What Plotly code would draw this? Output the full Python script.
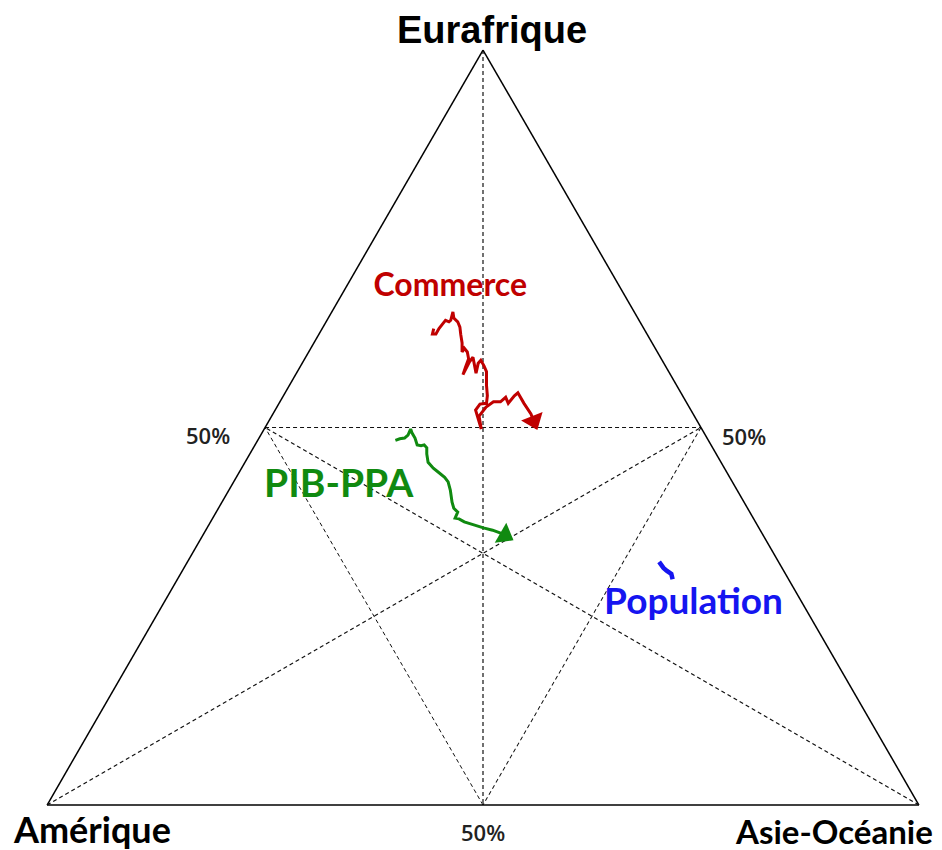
import plotly.graph_objects as go

# Shares (%) : Eurafrique (a), Amérique (b), Asie-Océanie (c)
commerce_eur = [63.1, 62.4, 62.4, 63.1, 63.7, 64.2, 64.0, 64.2, 65.3, 64.5, 64.0, 63.3, 62.3, 61.2, 60.0,
                60.5, 60.0, 59.1, 58.0, 57.0, 58.7, 59.3, 57.2, 58.5, 58.9, 58.2, 57.4, 55.6, 54.2, 53.2,
                53.1, 52.3, 49.8, 51.5, 52.7, 53.4, 53.4, 54.0, 53.2, 54.2, 54.6, 53.2, 51.8, 49.9]
commerce_ame = [24.1, 24.6, 24.2, 23.5, 22.8, 22.2, 21.9, 21.6, 20.8, 21.1, 20.9, 21.0, 21.4, 21.8, 22.4,
                21.9, 21.8, 22.1, 23.0, 23.8, 22.2, 21.5, 22.2, 21.3, 20.8, 20.8, 20.9, 21.8, 22.4, 23.0,
                23.8, 24.7, 25.3, 24.7, 23.3, 22.1, 21.3, 20.4, 20.5, 19.3, 18.7, 18.7, 18.6, 18.9]
commerce_asi = [12.8, 13.0, 13.4, 13.4, 13.5, 13.6, 14.1, 14.2, 13.9, 14.4, 15.1, 15.7, 16.3, 17.0, 17.6,
                17.6, 18.2, 18.8, 19.0, 19.2, 19.1, 19.2, 20.6, 20.2, 20.3, 21.0, 21.7, 22.6, 23.4, 23.8,
                23.1, 23.0, 24.9, 23.8, 24.0, 24.5, 25.3, 25.6, 26.3, 26.5, 26.7, 28.1, 29.6, 31.2]

pib_eur = [48.3, 48.5, 48.6, 49.0, 49.8, 49.3, 48.6, 47.7, 47.6, 47.7, 47.3, 46.5, 45.4, 44.6, 44.1,
           43.4, 42.8, 41.7, 40.1, 39.3, 38.8, 38.0, 37.9, 37.5, 37.1, 36.7, 36.4, 35.9, 35.2]
pib_ame = [35.9, 35.3, 34.7, 34.1, 33.4, 33.5, 33.5, 33.7, 33.3, 32.9, 32.8, 33.2, 33.6, 33.4, 33.1,
           32.7, 32.6, 32.9, 33.5, 33.7, 33.5, 34.2, 33.8, 33.4, 32.5, 31.6, 30.7, 29.8, 29.1]
pib_asi = [15.8, 16.2, 16.7, 16.9, 16.8, 17.2, 17.9, 18.6, 19.1, 19.4, 19.9, 20.3, 21.0, 22.0, 22.8,
           23.9, 24.6, 25.4, 26.4, 27.0, 27.7, 27.8, 28.3, 29.1, 30.4, 31.7, 32.9, 34.3, 35.7]

pop_eur = [32.2, 31.4, 31.0, 30.6, 29.9]
pop_ame = [13.7, 13.6, 13.4, 13.1, 13.3]
pop_asi = [54.1, 55.0, 55.6, 56.3, 56.8]

series_names = ["Commerce", "PIB-PPA", "Population"]
series_colors = ["#C00000", "#108A10", "#1515F0"]
label_eur = [68.5, 42.1, 26.5]
label_ame = [19.5, 45.5, 12.6]
label_asi = [12.0, 12.4, 60.9]
label_sizes = [32, 39, 37]

vertex_names = ["Eurafrique", "Amérique", "Asie-Océanie"]
grid_vals = [50]
grid_label = "50%"

# The page body adds an 8px offset; the figure is sized to fill the rest of the window.
W, H = 934, 842
ML = 16
PW = W - ML


def px_x(sx):
    """screen pixel x -> paper x (plot area starts after body offset + left margin)"""
    return (sx - 8 - ML) / PW


def px_y(sy):
    return 1 - (sy - 8) / H


fig = go.Figure()

# Medians (dashed), vertex -> midpoint of opposite side
fig.add_trace(go.Scatterternary(
    a=[100, 0, None, 0, 50, None, 0, 50],
    b=[0, 50, None, 100, 0, None, 0, 50],
    c=[0, 50, None, 0, 50, None, 100, 0],
    mode="lines", line=dict(color="#111", width=1.2, dash="4px,3px"),
    hoverinfo="skip", showlegend=False, connectgaps=False))


def add_path(a, b, c, color, width, arrow=True):
    fig.add_trace(go.Scatterternary(
        a=a, b=b, c=c, mode="lines",
        line=dict(color=color, width=width),
        hoverinfo="skip", showlegend=False))
    if arrow:
        # arrowhead on the last point, oriented along the last segment
        fig.add_trace(go.Scatterternary(
            a=a[-2:], b=b[-2:], c=c[-2:], mode="markers",
            marker=dict(symbol="triangle-up", size=[0, 20], color=color,
                        angleref="previous", standoff=8, opacity=1, line=dict(width=0)),
            hoverinfo="skip", showlegend=False))


add_path(commerce_eur, commerce_ame, commerce_asi, series_colors[0], 3)
add_path(pib_eur, pib_ame, pib_asi, series_colors[1], 3)
add_path(pop_eur, pop_ame, pop_asi, series_colors[2], 4.5, arrow=False)

for name, col, la, lb, lc, sz in zip(series_names, series_colors, label_eur, label_ame, label_asi, label_sizes):
    fig.add_trace(go.Scatterternary(
        a=[la], b=[lb], c=[lc], mode="text", text=[name],
        textfont=dict(family="Lato", size=sz, color=col, weight="bold"),
        textposition="middle center", hoverinfo="skip", showlegend=False))


def axis():
    return dict(
        min=0, showline=True, linecolor="black", linewidth=1.5,
        showgrid=True, gridcolor="#111", gridwidth=1.2, griddash="4px,3px",
        tickmode="array", tickvals=grid_vals, ticks="",
        showticklabels=False,
        title=dict(text=""), layer="below traces")


tick_font = dict(family="Open Sans", size=22, color="#222", weight=600)

fig.update_layout(
    width=W, height=H,
    margin=dict(l=ML, r=0, t=0, b=0),
    paper_bgcolor="white",
    showlegend=False,
    hovermode=False,
    ternary=dict(
        sum=100,
        bgcolor="white",
        domain=dict(x=[0, 1], y=[45 / H, 800 / H]),
        aaxis=axis(), baxis=axis(), caxis=axis()),
    annotations=[
        dict(text=vertex_names[0], x=px_x(492), y=px_y(30), xref="paper", yref="paper",
             showarrow=False, xanchor="center", yanchor="middle",
             font=dict(family="Liberation Sans", size=38, color="black", weight="bold")),
        dict(text=vertex_names[1], x=px_x(11), y=px_y(829), xref="paper", yref="paper",
             showarrow=False, xanchor="left", yanchor="middle",
             font=dict(family="Lato", size=36, color="black", weight="bold")),
        dict(text=vertex_names[2], x=px_x(935), y=px_y(831), xref="paper", yref="paper",
             showarrow=False, xanchor="right", yanchor="middle",
             font=dict(family="Lato", size=33, color="black", weight="bold")),
        dict(text=grid_label, x=px_x(232), y=px_y(435), xref="paper", yref="paper",
             showarrow=False, xanchor="right", yanchor="middle", font=tick_font),
        dict(text=grid_label, x=px_x(720), y=px_y(436), xref="paper", yref="paper",
             showarrow=False, xanchor="left", yanchor="middle", font=tick_font),
        dict(text=grid_label, x=px_x(483), y=px_y(832), xref="paper", yref="paper",
             showarrow=False, xanchor="center", yanchor="middle", font=tick_font),
    ],
)

fig.write_html("out.html", config=dict(displayModeBar=False))
